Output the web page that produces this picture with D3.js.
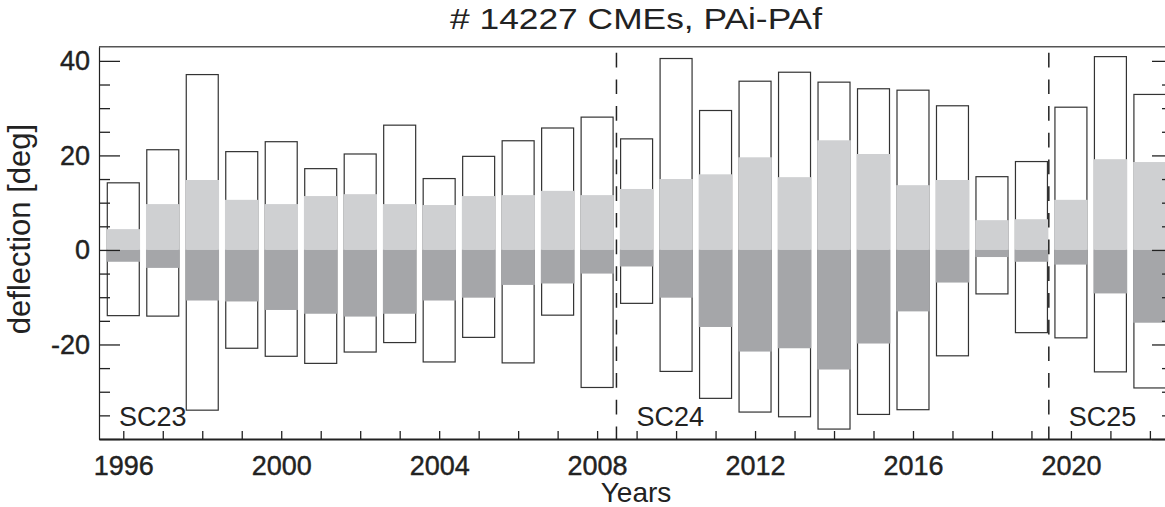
<!DOCTYPE html>
<html>
<head>
<meta charset="utf-8">
<script src="https://cdn.jsdelivr.net/npm/d3@7"></script>
<style>
  body { margin: 0; background: #fff; }
  text { font-family: "Liberation Sans", Arial, Helvetica, sans-serif; fill: #222; }
</style>
</head>
<body>
<svg id="chart" width="1165" height="507"></svg>
<script>
// Yearly CME deflection statistics (PAi - PAf), degrees
const years = [1996, 1997, 1998, 1999, 2000, 2001, 2002, 2003, 2004, 2005, 2006, 2007, 2008,
               2009, 2010, 2011, 2012, 2013, 2014, 2015, 2016, 2017, 2018, 2019,
               2020, 2021, 2022];
// outer box: upper and lower extent
const outerTop = [14.2, 21.2, 37.1, 20.8, 22.9, 17.2, 20.3, 26.4, 15.1, 19.8, 23.1, 25.8, 28.1,
                  23.5, 40.5, 29.5, 35.7, 37.6, 35.5, 34.1, 33.8, 30.5, 15.5, 18.7,
                  30.2, 40.9, 32.9];
const outerBottom = [-13.9, -14.0, -33.9, -20.8, -22.5, -24.0, -21.6, -19.6, -23.7, -18.5, -23.9, -13.8, -29.1,
                     -11.3, -25.7, -31.4, -34.3, -35.3, -37.9, -34.8, -33.8, -22.4, -9.3, -17.5,
                     -18.6, -25.8, -29.2];
// filled bars: positive (light) and negative (dark) parts
const innerTop = [4.4, 9.7, 14.8, 10.6, 9.7, 11.4, 11.8, 9.7, 9.5, 11.4, 11.6, 12.5, 11.6,
                  12.9, 15.0, 16.0, 19.6, 15.4, 23.2, 20.3, 13.7, 14.8, 6.3, 6.5,
                  10.6, 19.2, 18.6];
const innerBottom = [-2.5, -3.8, -10.7, -10.9, -12.7, -13.5, -14.1, -13.5, -10.7, -10.1, -7.4, -7.1, -5.0,
                     -3.5, -10.1, -16.3, -21.5, -20.8, -25.3, -19.8, -13.0, -6.9, -1.5, -2.5,
                     -3.1, -9.2, -15.4];
// solar cycle labels and the start of each cycle on the time axis
const cycleNames = ["SC23", "SC24", "SC25"];
const cycleStarts = [1995.385, 2008.49, 2019.44];
const yMajorTicks = [-40, -20, 0, 20, 40];
const yMinorTicks = [-35, -30, -25, -15, -10, -5, 5, 10, 15, 25, 30, 35];
const xLabelYears = [1996, 2000, 2004, 2008, 2012, 2016, 2020];

const titleText = "# 14227 CMEs, PAi-PAf";
const xTitle = "Years";
const yTitle = "deflection [deg]";

const svg = d3.select("#chart");
const mLeft = 99, mRight = 1173, mTop = 46.7, mBottom = 439;

const x = d3.scaleLinear().domain([1995.385, 2022.585]).range([mLeft, mRight]);
const y = d3.scaleLinear().domain([-40, 43]).range([mBottom, mTop]);
const step = x(1) - x(0);
const boxW = step * 0.81;

const rows = years.map((yr, i) => ({
  yr, hi: outerTop[i], lo: outerBottom[i], pos: innerTop[i], neg: innerBottom[i]
}));

const plot = svg.append("g");

// outlined range boxes
plot.selectAll("rect.box").data(rows).join("rect")
  .attr("class", "box")
  .attr("x", d => x(d.yr) - boxW / 2)
  .attr("width", boxW)
  .attr("y", d => y(d.hi))
  .attr("height", d => y(d.lo) - y(d.hi))
  .attr("fill", "#fff")
  .attr("stroke", "#333")
  .attr("stroke-width", 1.2);

// light grey: positive part
plot.selectAll("rect.pos").data(rows).join("rect")
  .attr("class", "pos")
  .attr("x", d => x(d.yr) - boxW / 2 - 0.8)
  .attr("width", boxW + 1.6)
  .attr("y", d => y(d.pos))
  .attr("height", d => y(0) - y(d.pos))
  .attr("fill", "#cfd0d2");

// dark grey: negative part
plot.selectAll("rect.neg").data(rows).join("rect")
  .attr("class", "neg")
  .attr("x", d => x(d.yr) - boxW / 2 - 0.8)
  .attr("width", boxW + 1.6)
  .attr("y", y(0))
  .attr("height", d => y(d.neg) - y(0))
  .attr("fill", "#a5a6a9");

// solar cycle boundaries
plot.selectAll("line.cycle").data(cycleStarts.slice(1)).join("line")
  .attr("class", "cycle")
  .attr("x1", d => x(d)).attr("x2", d => x(d))
  .attr("y1", 52.7).attr("y2", mBottom)
  .attr("stroke", "#222")
  .attr("stroke-width", 1.5)
  .attr("stroke-dasharray", "14.7,12");

// cycle labels
plot.selectAll("text.cycle").data(cycleNames).join("text")
  .attr("class", "cycle")
  .attr("x", (d, i) => x(cycleStarts[i]) + 20)
  .attr("y", 426)
  .attr("font-size", 27)
  .text(d => d);

// frame top line
svg.append("line")
  .attr("x1", mLeft).attr("x2", mRight).attr("y1", mTop).attr("y2", mTop)
  .attr("stroke", "#555").attr("stroke-width", 1.4);

// left axis: major and minor ticks
const yAxis = d3.axisLeft(y).tickValues(yMajorTicks).tickSize(-21).tickSizeOuter(0).tickPadding(9)
  .tickFormat(d => d === -40 ? "" : d);
const gy = svg.append("g").attr("transform", `translate(${mLeft},0)`).call(yAxis);
gy.select(".domain").attr("stroke", "#222").attr("stroke-width", 1.2);
gy.selectAll(".tick line").attr("stroke", "#222").attr("stroke-width", 1.3);
gy.selectAll(".tick text").attr("font-size", 27).attr("fill", "#222")
  .attr("stroke", "#222").attr("stroke-width", 0.4)
  .attr("font-family", '"Liberation Sans", Arial, sans-serif');

const yMinor = d3.axisLeft(y).tickValues(yMinorTicks).tickSize(-11).tickSizeOuter(0).tickFormat("");
const gym = svg.append("g").attr("transform", `translate(${mLeft},0)`).call(yMinor);
gym.select(".domain").remove();
gym.selectAll(".tick line").attr("stroke", "#222").attr("stroke-width", 1.3);

// right axis (ticks pointing inward)
const yRight = d3.axisRight(y).tickValues(yMajorTicks).tickSize(-21).tickSizeOuter(0).tickFormat("");
const gr = svg.append("g").attr("transform", `translate(${mRight},0)`).call(yRight);
gr.select(".domain").attr("stroke", "#222").attr("stroke-width", 1.2);
gr.selectAll(".tick line").attr("stroke", "#222").attr("stroke-width", 1.3);
const yRightMinor = d3.axisRight(y).tickValues(yMinorTicks).tickSize(-11).tickSizeOuter(0).tickFormat("");
const grm = svg.append("g").attr("transform", `translate(${mRight},0)`).call(yRightMinor);
grm.select(".domain").remove();
grm.selectAll(".tick line").attr("stroke", "#222").attr("stroke-width", 1.3);

// bottom axis: one tick per year, labels every four years
const xAxis = d3.axisBottom(x).tickValues(years).tickSize(-8).tickSizeOuter(0).tickPadding(17)
  .tickFormat(d => xLabelYears.includes(d) ? d : "");
const gx = svg.append("g").attr("transform", `translate(0,${mBottom})`).call(xAxis);
gx.select(".domain").attr("stroke", "#222").attr("stroke-width", 2.2);
gx.selectAll(".tick line").attr("stroke", "#222").attr("stroke-width", 1.3);
gx.selectAll(".tick text").attr("font-size", 27).attr("fill", "#222")
  .attr("stroke", "#222").attr("stroke-width", 0.4)
  .attr("font-family", '"Liberation Sans", Arial, sans-serif');

// titles
svg.append("text")
  .attr("x", (mLeft + mRight) / 2).attr("y", 29)
  .attr("text-anchor", "middle")
  .attr("font-size", 29)
  .attr("textLength", 372).attr("lengthAdjust", "spacingAndGlyphs")
  .text(titleText);

svg.append("text")
  .attr("x", (mLeft + mRight) / 2).attr("y", 502)
  .attr("text-anchor", "middle")
  .attr("font-size", 28)
  .text(xTitle);

svg.append("text")
  .attr("transform", `translate(30,229) rotate(-90)`)
  .attr("text-anchor", "middle")
  .attr("font-size", 31)
  .text(yTitle);
</script>
</body>
</html>
